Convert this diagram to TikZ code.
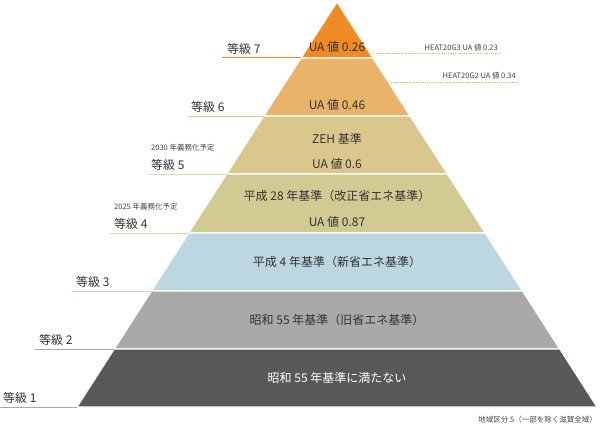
\documentclass[tikz,border=0pt]{standalone}
\usepackage{fontspec}
\setmainfont{Noto Sans CJK JP}
\begin{document}
\begin{tikzpicture}[x=1pt,y=-1pt,
  lbl/.style={font=\fontsize{12}{12}\selectfont,text=black!80,inner sep=1pt},
  sm/.style={font=\fontsize{7.5}{8}\selectfont,text=black!75,inner sep=1pt},
  lv/.style={draw=white,line width=1.2pt}]
\useasboundingbox (0,0) rectangle (600,428);
\definecolor{c7}{HTML}{F08A24}\definecolor{c6}{HTML}{E9B46A}\definecolor{c5}{HTML}{D9C78E}
\definecolor{c4}{HTML}{D1CA93}\definecolor{c3}{HTML}{BDD7E0}\definecolor{c2}{HTML}{A9A9A9}
\definecolor{c1}{HTML}{595757}
\def\ax{337}\def\ay{2}\def\k{0.642}
\foreach \ya/\yb/\c in {2/58/c7,58/116/c6,116/174/c5,174/233/c4,233/291/c3,291/349/c2,349/407/c1}{
  \pgfmathsetmacro\wa{(\ya-\ay)*\k}\pgfmathsetmacro\wb{(\yb-\ay)*\k}
  \fill[\c,lv] (\ax-\wa,\ya) -- (\ax+\wa,\ya) -- (\ax+\wb,\yb) -- (\ax-\wb,\yb) -- cycle;
}
% grade lines
\foreach \y/\x/\c in {58/222/c7,116/188/c6!80,174/148/c5!70,233/110/c4!80,291/72/c3,349/35/c2,407/0/c2}{
  \pgfmathsetmacro\w{(\y-\ay)*\k}
  \draw[\c,line width=1pt] (\x,\y) -- (\ax-\w,\y);
}
\node[lbl,anchor=south west] (g7) at (226,56) {等級 7};
\node[lbl,anchor=south west] (g6) at (190,114) {等級 6};
\node[lbl,anchor=south west] (g5) at (150,172) {等級 5};
\node[sm,anchor=south west] (n5) at (150,152) {2030 年義務化予定};
\node[lbl,anchor=south west] (g4) at (113,231) {等級 4};
\node[sm,anchor=south west] (n4) at (113,211) {2025 年義務化予定};
\node[lbl,anchor=south west] (g3) at (75,289) {等級 3};
\node[lbl,anchor=south west] (g2) at (38,347) {等級 2};
\node[lbl,anchor=south west] (g1) at (2,405) {等級 1};
% inner texts
\node[lbl] (t7) at (337,47) {UA 値 0.26};
\node[lbl] (t6) at (337,105) {UA 値 0.46};
\node[lbl] (t5a) at (337,139) {ZEH 基準};
\node[lbl] (t5b) at (337,164) {UA 値 0.6};
\node[lbl] (t4a) at (337,196) {平成 28 年基準（改正省エネ基準）};
\node[lbl] (t4b) at (337,222) {UA 値 0.87};
\node[lbl] (t3) at (337,262) {平成 4 年基準（新省エネ基準）};
\node[lbl] (t2) at (337,320) {昭和 55 年基準（旧省エネ基準）};
\node[lbl,text=white] (t1) at (337,378) {昭和 55 年基準に満たない};
% HEAT20
\coordinate (h3a) at (374,53); \coordinate (h3b) at (501,53);
\draw[c7!70,densely dotted,line width=0.8pt] (h3a) -- (h3b);
\node[sm,anchor=south east] (h3) at (499,52) {HEAT20G3 UA 値 0.23};
\coordinate (h2a) at (391,82); \coordinate (h2b) at (518,82);
\draw[c7!70,densely dotted,line width=0.8pt] (h2a) -- (h2b);
\node[sm,anchor=south east] (h2) at (517,80) {HEAT20G2 UA 値 0.34};
\node[sm,anchor=east] (foot) at (598,420) {地域区分 5（一部を除く滋賀全域）};
\end{tikzpicture}
\end{document}
